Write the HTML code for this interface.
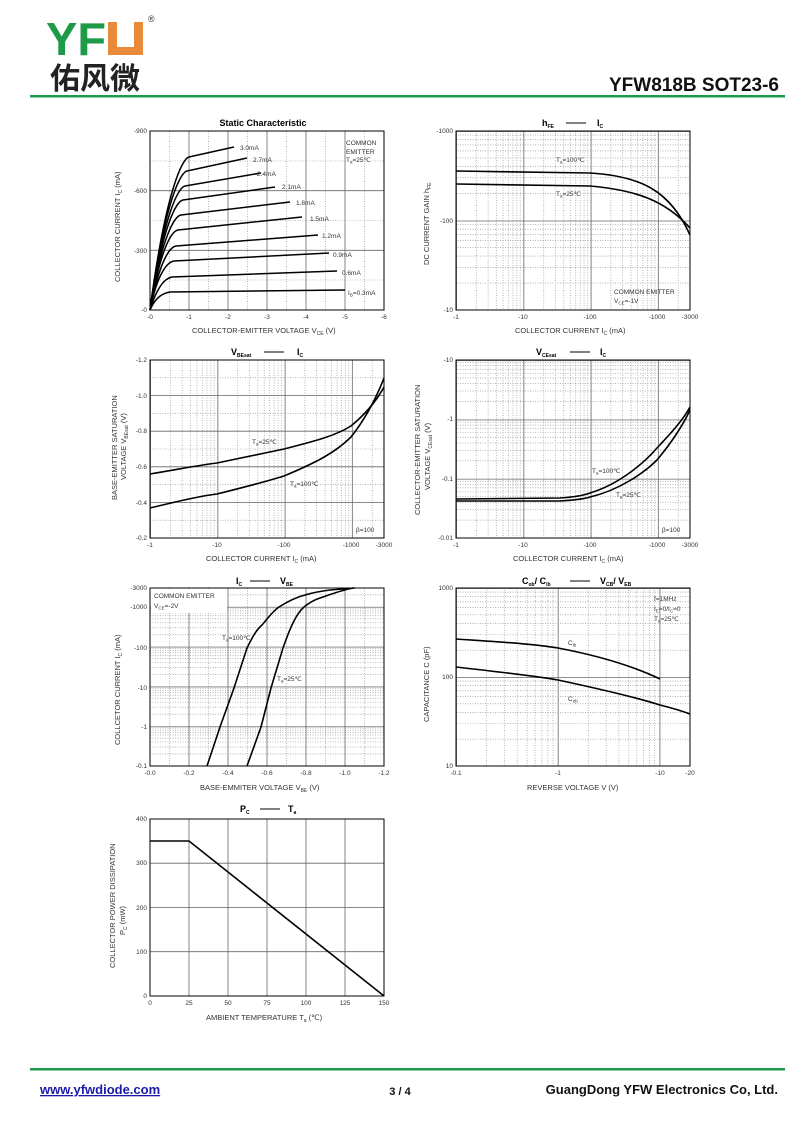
<!DOCTYPE html>
<html><head><meta charset="utf-8"><style>
html,body{margin:0;padding:0;background:#fff;}
svg{display:block;font-family:"Liberation Sans",Arial,sans-serif;}
.t{font-size:6.5px;fill:#333}
.a{font-size:7.5px;fill:#333}
.h{font-size:9px;font-weight:bold;fill:#000}
.c{fill:none;stroke:#000;stroke-width:1.6}
.f{fill:none;stroke:#000;stroke-width:1}
.mj{stroke:#666;stroke-width:0.8;fill:none}
.dt{stroke:#888;stroke-width:0.6;stroke-dasharray:1,1.5;fill:none}
</style></head><body>
<svg width="800" height="1130" viewBox="0 0 800 1130" xmlns="http://www.w3.org/2000/svg">
<defs>
<pattern id="x67" patternUnits="userSpaceOnUse" x="456" y="0" width="67.3" height="1130">
<path class="dt" d="M20.3 0V1130M32.1 0V1130M40.5 0V1130M47 0V1130M52.4 0V1130M56.9 0V1130M60.8 0V1130M64.2 0V1130"/>
<path class="mj" d="M0.5 0V1130"/></pattern>
<pattern id="x67b" patternUnits="userSpaceOnUse" x="150" y="0" width="67.3" height="1130">
<path class="dt" d="M20.3 0V1130M32.1 0V1130M40.5 0V1130M47 0V1130M52.4 0V1130M56.9 0V1130M60.8 0V1130M64.2 0V1130"/>
<path class="mj" d="M0.5 0V1130"/></pattern>
<pattern id="y89" patternUnits="userSpaceOnUse" x="0" y="310" width="800" height="89.5">
<path class="dt" d="M0 62.6H800M0 46.8H800M0 35.6H800M0 26.9H800M0 19.9H800M0 13.9H800M0 8.7H800M0 4.1H800"/>
<path class="mj" d="M0 0.5H800"/></pattern>
<pattern id="y59" patternUnits="userSpaceOnUse" x="0" y="538" width="800" height="59.3">
<path class="dt" d="M0 41.4H800M0 31H800M0 23.6H800M0 17.9H800M0 13.2H800M0 9.2H800M0 5.7H800M0 2.7H800"/>
<path class="mj" d="M0 0.5H800"/></pattern>
<pattern id="y40" patternUnits="userSpaceOnUse" x="0" y="766" width="800" height="39.8">
<path class="dt" d="M0 27.8H800M0 20.8H800M0 15.8H800M0 12H800M0 8.8H800M0 6.2H800M0 3.9H800M0 1.8H800"/>
<path class="mj" d="M0 0.5H800"/></pattern>
<pattern id="x101" patternUnits="userSpaceOnUse" x="456" y="0" width="101.7" height="1130">
<path class="dt" d="M30.6 0V1130M48.5 0V1130M61.2 0V1130M71.1 0V1130M79.1 0V1130M85.9 0V1130M91.8 0V1130M97 0V1130"/>
<path class="mj" d="M0.5 0V1130"/></pattern>
<pattern id="y89b" patternUnits="userSpaceOnUse" x="0" y="766" width="800" height="89">
<path class="dt" d="M0 62.2H800M0 46.5H800M0 35.4H800M0 26.8H800M0 19.7H800M0 13.8H800M0 8.6H800M0 4.1H800"/>
<path class="mj" d="M0 0.5H800"/></pattern>
</defs>

<!-- Header -->
<text x="46" y="55" textLength="60" lengthAdjust="spacingAndGlyphs" style="font-size:46px;font-weight:bold;fill:#1e9a48">YF</text>
<rect x="108" y="22" width="35" height="33" fill="#e98a3b"/>
<rect x="117" y="22" width="17" height="25" fill="#fff"/>
<text x="148" y="22" style="font-size:9px;fill:#333">®</text>
<text x="50" y="89" textLength="90" lengthAdjust="spacingAndGlyphs" style="font-size:30px;font-weight:bold;fill:#222;font-family:'Liberation Sans','Noto Sans CJK SC',sans-serif">佑风微</text>
<text x="779" y="91" text-anchor="end" style="font-size:19px;font-weight:bold;fill:#111">YFW818B SOT23-6</text>
<rect x="30" y="95" width="755" height="2.5" fill="#1e9a48"/>

<!-- Chart 1 -->
<text class="h" x="263" y="126" text-anchor="middle">Static Characteristic</text>
<path class="dt" d="M169.5 131V310M208.5 131V310M247.5 131V310M286.5 131V310M325.5 131V310M364.5 131V310M150 280H384M150 220.5H384M150 161H384"/>
<path class="mj" d="M189 131V310M228 131V310M267 131V310M306 131V310M345 131V310M150 250.3H384M150 190.7H384"/>
<rect class="f" x="150" y="131" width="234" height="179"/>
<g class="c" style="stroke-width:1.5">
<path d="M150 310C156 296 164 293 170 292L345 290"/>
<path d="M150 310C158 284 166 278 172 277L337 271"/>
<path d="M150 310C158 271 168 262 174 261L329 253"/>
<path d="M150 310C160 259 170 247 176 246L318 235"/>
<path d="M150 310C161 246 172 231 178 230L302 217"/>
<path d="M150 310C162 234 175 216 181 215L290 202"/>
<path d="M150 310C163 222 177 201 183 200L275 187"/>
<path d="M150 310C164 211 179 187 185 186L261 173"/>
<path d="M150 310C165 199 181 172 187 171L247 158"/>
<path d="M150 310C166 188 183 158 189 157L234 147"/>
</g>
<g class="t">
<text x="240" y="150">3.0mA</text><text x="253" y="162">2.7mA</text><text x="257" y="176">2.4mA</text>
<text x="282" y="189">2.1mA</text><text x="296" y="205">1.8mA</text><text x="310" y="221">1.5mA</text>
<text x="322" y="238">1.2mA</text><text x="333" y="257">0.9mA</text><text x="342" y="275">0.6mA</text>
<text x="348" y="295">I<tspan font-size="4.5" dy="1.5">B</tspan><tspan dy="-1.5">=0.3mA</tspan></text>
<text x="346" y="145">COMMON</text><text x="346" y="154">EMITTER</text><text x="346" y="162">T<tspan font-size="4.5" dy="1.5">a</tspan><tspan dy="-1.5">=25℃</tspan></text>
<text x="147" y="133" text-anchor="end">-900</text><text x="147" y="193" text-anchor="end">-600</text>
<text x="147" y="253" text-anchor="end">-300</text><text x="147" y="312" text-anchor="end">-0</text>
<text x="150" y="319" text-anchor="middle">-0</text><text x="189" y="319" text-anchor="middle">-1</text><text x="228" y="319" text-anchor="middle">-2</text>
<text x="267" y="319" text-anchor="middle">-3</text><text x="306" y="319" text-anchor="middle">-4</text><text x="345" y="319" text-anchor="middle">-5</text><text x="384" y="319" text-anchor="middle">-6</text>
</g>
<text class="a" x="192" y="333">COLLECTOR-EMITTER VOLTAGE    V<tspan font-size="5" dy="2">CE</tspan><tspan dy="-2">   (V)</tspan></text>
<text class="a" transform="translate(120,282) rotate(-90)">COLLECTOR CURRENT    I<tspan font-size="5" dy="2">C</tspan><tspan dy="-2">   (mA)</tspan></text>

<!-- Chart 2 -->
<text class="h" x="542" y="126">h<tspan font-size="5" dy="2">FE</tspan></text><path d="M566 123H586" stroke="#000"/><text class="h" x="597" y="126">I<tspan font-size="5" dy="2">C</tspan></text>
<rect x="456" y="131" width="234" height="179" fill="url(#x67)"/>
<rect x="456" y="131" width="234" height="179" fill="url(#y89)"/>
<rect class="f" x="456" y="131" width="234" height="179"/>
<path class="c" d="M456 171L590 173C640 176 670 190 690 235"/>
<path class="c" d="M456 184L590 186C635 190 665 200 690 228"/>
<g class="t">
<text x="556" y="162">T<tspan font-size="4.5" dy="1.5">a</tspan><tspan dy="-1.5">=100℃</tspan></text>
<text x="556" y="196">T<tspan font-size="4.5" dy="1.5">a</tspan><tspan dy="-1.5">=25℃</tspan></text>
<text x="614" y="294">COMMON EMITTER</text><text x="614" y="303">V<tspan font-size="4.5" dy="1.5">CE</tspan><tspan dy="-1.5">=-1V</tspan></text>
<text x="453" y="133" text-anchor="end">-1000</text><text x="453" y="223" text-anchor="end">-100</text><text x="453" y="312" text-anchor="end">-10</text>
<text x="456" y="319" text-anchor="middle">-1</text><text x="523" y="319" text-anchor="middle">-10</text><text x="590" y="319" text-anchor="middle">-100</text>
<text x="657" y="319" text-anchor="middle">-1000</text><text x="690" y="319" text-anchor="middle">-3000</text>
</g>
<text class="a" x="515" y="333">COLLECTOR CURRENT    I<tspan font-size="5" dy="2">C</tspan><tspan dy="-2">   (mA)</tspan></text>
<text class="a" transform="translate(429,265) rotate(-90)">DC CURRENT GAIN    h<tspan font-size="5" dy="2">FE</tspan></text>

<!-- Chart 3 -->
<text class="h" x="231" y="355">V<tspan font-size="5" dy="2">BEsat</tspan></text><path d="M264 352H284" stroke="#000"/><text class="h" x="297" y="355">I<tspan font-size="5" dy="2">C</tspan></text>
<rect x="150" y="360" width="234" height="178" fill="url(#x67b)"/>
<path class="dt" d="M150 520.2H384M150 484.6H384M150 449H384M150 413.4H384M150 377.8H384"/>
<path class="mj" d="M150 502.4H384M150 466.8H384M150 431.2H384M150 395.6H384"/>
<rect class="f" x="150" y="360" width="234" height="178"/>
<path class="c" d="M150 474C180 469 200 465 217 463C245 457 265 453 284 449C315 441 335 436 351 426C368 412 378 398 384 387"/>
<path class="c" d="M150 508C175 502 200 496 217 494C245 487 265 482 284 476C315 463 335 453 351 437C366 418 377 396 384 378"/>
<g class="t">
<text x="252" y="444">T<tspan font-size="4.5" dy="1.5">a</tspan><tspan dy="-1.5">=25℃</tspan></text>
<text x="290" y="486">T<tspan font-size="4.5" dy="1.5">a</tspan><tspan dy="-1.5">=100℃</tspan></text>
<text x="356" y="532">β=100</text>
<text x="147" y="362" text-anchor="end">-1.2</text><text x="147" y="398" text-anchor="end">-1.0</text><text x="147" y="433" text-anchor="end">-0.8</text>
<text x="147" y="469" text-anchor="end">-0.6</text><text x="147" y="505" text-anchor="end">-0.4</text><text x="147" y="540" text-anchor="end">-0.2</text>
<text x="150" y="547" text-anchor="middle">-1</text><text x="217" y="547" text-anchor="middle">-10</text><text x="284" y="547" text-anchor="middle">-100</text>
<text x="351" y="547" text-anchor="middle">-1000</text><text x="384" y="547" text-anchor="middle">-3000</text>
</g>
<text class="a" x="206" y="561">COLLECTOR CURRENT    I<tspan font-size="5" dy="2">C</tspan><tspan dy="-2">   (mA)</tspan></text>
<text class="a" transform="translate(117,500) rotate(-90)">BASE-EMITTER SATURATION</text>
<text class="a" transform="translate(126,480) rotate(-90)">VOLTAGE    V<tspan font-size="5" dy="2">BEsat</tspan><tspan dy="-2">   (V)</tspan></text>

<!-- Chart 4 -->
<text class="h" x="536" y="355">V<tspan font-size="5" dy="2">CEsat</tspan></text><path d="M570 352H590" stroke="#000"/><text class="h" x="600" y="355">I<tspan font-size="5" dy="2">C</tspan></text>
<rect x="456" y="360" width="234" height="178" fill="url(#x67)"/>
<rect x="456" y="360" width="234" height="178" fill="url(#y59)"/>
<rect class="f" x="456" y="360" width="234" height="178"/>
<path class="c" d="M456 499L560 498C575 497 585 495 590 493C620 484 645 462 657 448C672 432 683 420 690 407"/>
<path class="c" d="M456 501L560 501C575 500 585 499 590 497C620 490 645 472 657 460C672 442 683 425 690 410"/>
<g class="t">
<text x="592" y="473">T<tspan font-size="4.5" dy="1.5">a</tspan><tspan dy="-1.5">=100℃</tspan></text>
<text x="616" y="497">T<tspan font-size="4.5" dy="1.5">a</tspan><tspan dy="-1.5">=25℃</tspan></text>
<text x="662" y="532">β=100</text>
<text x="453" y="362" text-anchor="end">-10</text><text x="453" y="421" text-anchor="end">-1</text><text x="453" y="481" text-anchor="end">-0.1</text><text x="453" y="540" text-anchor="end">-0.01</text>
<text x="456" y="547" text-anchor="middle">-1</text><text x="523" y="547" text-anchor="middle">-10</text><text x="590" y="547" text-anchor="middle">-100</text>
<text x="657" y="547" text-anchor="middle">-1000</text><text x="690" y="547" text-anchor="middle">-3000</text>
</g>
<text class="a" x="513" y="561">COLLECTOR CURRENT    I<tspan font-size="5" dy="2">C</tspan><tspan dy="-2">   (mA)</tspan></text>
<text class="a" transform="translate(420,515) rotate(-90)">COLLECTOR-EMITTER SATURATION</text>
<text class="a" transform="translate(430,490) rotate(-90)">VOLTAGE    V<tspan font-size="5" dy="2">CEsat</tspan><tspan dy="-2">   (V)</tspan></text>

<!-- Chart 5 -->
<text class="h" x="236" y="584">I<tspan font-size="5" dy="2">C</tspan></text><path d="M250 581H270" stroke="#000"/><text class="h" x="280" y="584">V<tspan font-size="5" dy="2">BE</tspan></text>
<rect x="150" y="588" width="234" height="178" fill="url(#y40)"/>
<path class="dt" d="M169.5 588V766M208.5 588V766M247.5 588V766M286.5 588V766M325.5 588V766M364.5 588V766"/>
<path class="mj" d="M189 588V766M228 588V766M267 588V766M306 588V766M345 588V766"/>
<rect x="151" y="589" width="76" height="24" fill="#fff"/>
<rect class="f" x="150" y="588" width="234" height="178"/>
<path class="c" d="M207 766L220 727L234 688L247 648C252 638 256 630 262 625C268 618 273 611 279 607C290 600 297 597 305 595C315 592 322 591 330 590L355 588"/>
<path class="c" d="M247 766L261 727L271 688L283 648C290 628 296 614 304 607C310 602 314 600 320 598C332 594 342 590 353 588"/>
<g class="t">
<text x="154" y="598">COMMON EMITTER</text><text x="154" y="608">V<tspan font-size="4.5" dy="1.5">CE</tspan><tspan dy="-1.5">=-2V</tspan></text>
<text x="222" y="640">T<tspan font-size="4.5" dy="1.5">a</tspan><tspan dy="-1.5">=100℃</tspan></text>
<text x="277" y="681">T<tspan font-size="4.5" dy="1.5">a</tspan><tspan dy="-1.5">=25℃</tspan></text>
<text x="147" y="590" text-anchor="end">-3000</text><text x="147" y="609" text-anchor="end">-1000</text><text x="147" y="650" text-anchor="end">-100</text>
<text x="147" y="690" text-anchor="end">-10</text><text x="147" y="729" text-anchor="end">-1</text><text x="147" y="768" text-anchor="end">-0.1</text>
<text x="150" y="775" text-anchor="middle">-0.0</text><text x="189" y="775" text-anchor="middle">-0.2</text><text x="228" y="775" text-anchor="middle">-0.4</text>
<text x="267" y="775" text-anchor="middle">-0.6</text><text x="306" y="775" text-anchor="middle">-0.8</text><text x="345" y="775" text-anchor="middle">-1.0</text><text x="384" y="775" text-anchor="middle">-1.2</text>
</g>
<text class="a" x="200" y="790">BASE-EMMITER VOLTAGE    V<tspan font-size="5" dy="2">BE</tspan><tspan dy="-2">   (V)</tspan></text>
<text class="a" transform="translate(120,745) rotate(-90)">COLLCETOR CURRENT    I<tspan font-size="5" dy="2">C</tspan><tspan dy="-2">   (mA)</tspan></text>

<!-- Chart 6 -->
<text class="h" x="522" y="584">C<tspan font-size="5" dy="2">ob</tspan><tspan dy="-2">/ C</tspan><tspan font-size="5" dy="2">ib</tspan></text><path d="M570 581H590" stroke="#000"/><text class="h" x="600" y="584">V<tspan font-size="5" dy="2">CB</tspan><tspan dy="-2">/ V</tspan><tspan font-size="5" dy="2">EB</tspan></text>
<rect x="456" y="588" width="234" height="178" fill="url(#x101)"/>
<rect x="456" y="588" width="234" height="178" fill="url(#y89b)"/>
<rect class="f" x="456" y="588" width="234" height="178"/>
<path class="c" d="M456 639C500 642 535 644 558 648C600 656 635 667 660 679"/>
<path class="c" d="M456 667C500 672 535 676 558 680C600 689 635 697 660 705C672 708 682 711 690 714"/>
<g class="t">
<text x="568" y="645">C<tspan font-size="4.5" dy="1.5">ib</tspan></text>
<text x="568" y="701">C<tspan font-size="4.5" dy="1.5">ob</tspan></text>
<text x="654" y="601">f=1MHz</text>
<text x="654" y="611">I<tspan font-size="4.5" dy="1.5">E</tspan><tspan dy="-1.5">=0/I</tspan><tspan font-size="4.5" dy="1.5">C</tspan><tspan dy="-1.5">=0</tspan></text>
<text x="654" y="621">T<tspan font-size="4.5" dy="1.5">a</tspan><tspan dy="-1.5">=25℃</tspan></text>
<text x="453" y="590" text-anchor="end">1000</text><text x="453" y="679" text-anchor="end">100</text><text x="453" y="768" text-anchor="end">10</text>
<text x="456" y="775" text-anchor="middle">-0.1</text><text x="558" y="775" text-anchor="middle">-1</text>
<text x="660" y="775" text-anchor="middle">-10</text><text x="690" y="775" text-anchor="middle">-20</text>
</g>
<text class="a" x="527" y="790">REVERSE VOLTAGE    V    (V)</text>
<text class="a" transform="translate(429,722) rotate(-90)">CAPACITANCE    C    (pF)</text>

<!-- Chart 7 -->
<text class="h" x="240" y="812">P<tspan font-size="5" dy="2">C</tspan></text><path d="M260 809H280" stroke="#000"/><text class="h" x="288" y="812">T<tspan font-size="5" dy="2">a</tspan></text>
<path class="mj" d="M189 819V996M228 819V996M267 819V996M306 819V996M345 819V996M150 951.7H384M150 907.5H384M150 863.2H384"/>
<rect class="f" x="150" y="819" width="234" height="177"/>
<path class="c" d="M150 841L189 841L384 996"/>
<g class="t">
<text x="147" y="821" text-anchor="end">400</text><text x="147" y="865" text-anchor="end">300</text><text x="147" y="910" text-anchor="end">200</text>
<text x="147" y="954" text-anchor="end">100</text><text x="147" y="998" text-anchor="end">0</text>
<text x="150" y="1005" text-anchor="middle">0</text><text x="189" y="1005" text-anchor="middle">25</text><text x="228" y="1005" text-anchor="middle">50</text>
<text x="267" y="1005" text-anchor="middle">75</text><text x="306" y="1005" text-anchor="middle">100</text><text x="345" y="1005" text-anchor="middle">125</text><text x="384" y="1005" text-anchor="middle">150</text>
</g>
<text class="a" x="206" y="1020">AMBIENT TEMPERATURE    T<tspan font-size="5" dy="2">a</tspan><tspan dy="-2">   (℃)</tspan></text>
<text class="a" transform="translate(115,968) rotate(-90)">COLLECTOR POWER DISSIPATION</text>
<text class="a" transform="translate(125,935) rotate(-90)">P<tspan font-size="5" dy="2">C</tspan><tspan dy="-2">   (mW)</tspan></text>

<!-- Footer -->
<rect x="30" y="1068" width="755" height="2.5" fill="#1e9a48"/>
<text x="40" y="1094" style="font-size:13px;font-weight:bold;fill:#1a1aa8;text-decoration:underline">www.yfwdiode.com</text>
<text x="400" y="1095" text-anchor="middle" style="font-size:11px;font-weight:bold;fill:#111">3 / 4</text>
<text x="778" y="1094" text-anchor="end" style="font-size:13px;font-weight:bold;fill:#111">GuangDong YFW Electronics Co, Ltd.</text>
</svg>
</body></html>
